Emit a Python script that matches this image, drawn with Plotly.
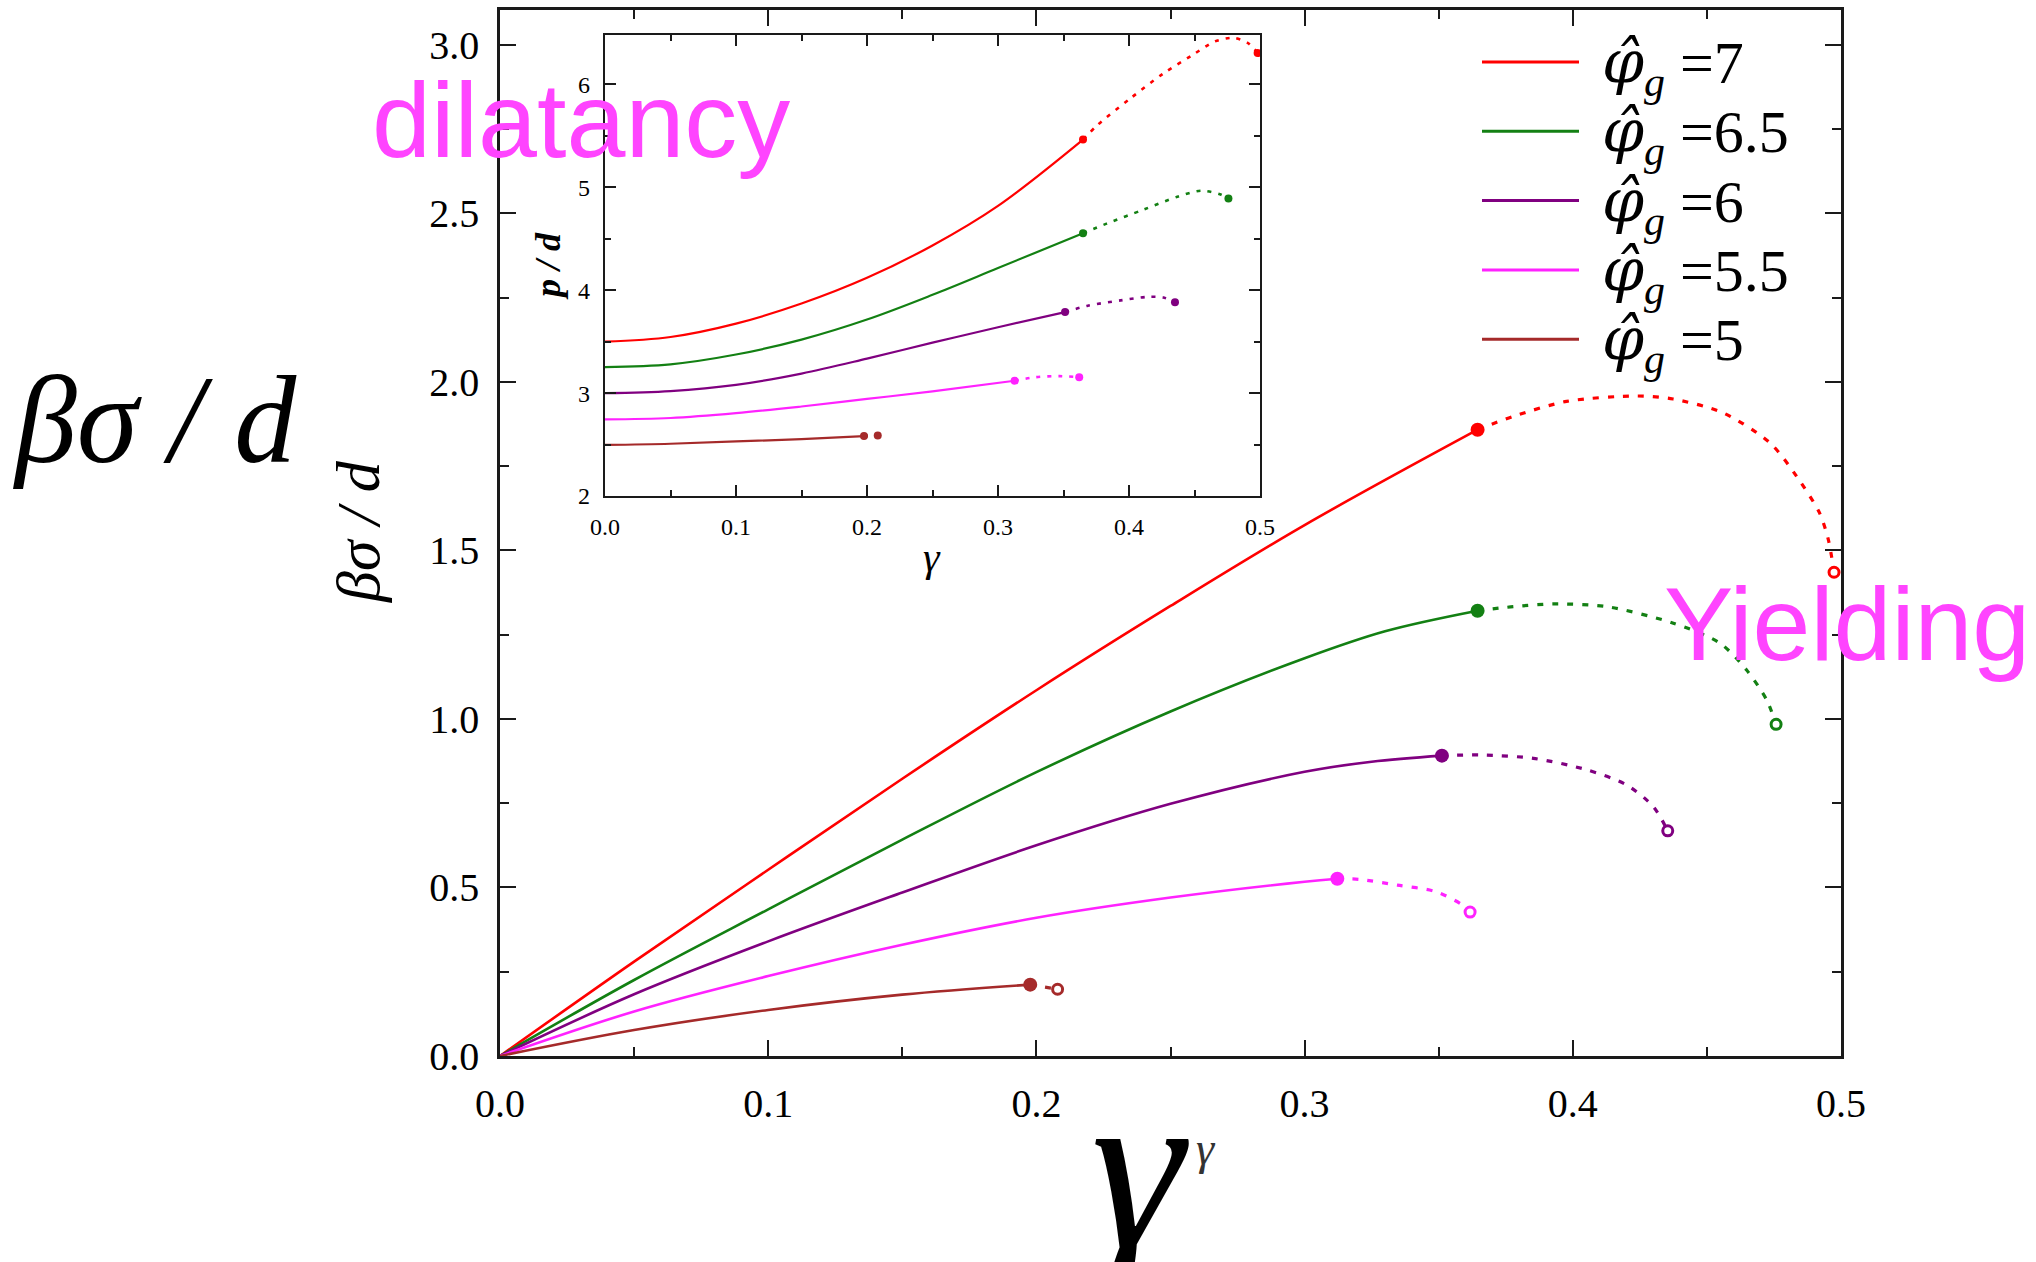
import plotly.graph_objects as go

W, H = 2036, 1262

# ---------------- data ----------------
series_names = ["7", "6.5", "6", "5.5", "5"]
colors = ["#ff0000", "#138013", "#800080", "#ff22ff", "#a52a2a"]

# main plot: beta*sigma/d vs gamma (solid part, then dotted continuation)
red_x = [0, 0.05, 0.1, 0.15, 0.2, 0.25, 0.3, 0.3645]
red_y = [0, 0.28, 0.5525, 0.8225, 1.085, 1.335, 1.575, 1.858]
red_dx = [0.3645, 0.3777, 0.3977, 0.4238, 0.4374, 0.456, 0.4735, 0.4835, 0.492, 0.4953, 0.4974]
red_dy = [1.858, 1.897, 1.942, 1.958, 1.949, 1.908, 1.819, 1.719, 1.611, 1.531, 1.435]

green_x = [0, 0.05, 0.1, 0.15, 0.2, 0.25, 0.3, 0.33, 0.3645]
green_y = [0, 0.2255, 0.435, 0.642, 0.842, 1.022, 1.180, 1.260, 1.321]
green_dx = [0.3645, 0.3778, 0.3927, 0.4126, 0.4375, 0.4549, 0.4648, 0.4723, 0.4758]
green_dy = [1.321, 1.333, 1.341, 1.333, 1.284, 1.2246, 1.145, 1.056, 0.984]

purple_x = [0, 0.05, 0.1, 0.15, 0.2, 0.25, 0.3, 0.325, 0.3512]
purple_y = [0, 0.183, 0.340, 0.485, 0.625, 0.748, 0.843, 0.873, 0.891]
purple_dx = [0.3512, 0.3654, 0.3853, 0.4052, 0.4201, 0.43, 0.4354]
purple_dy = [0.891, 0.893, 0.883, 0.849, 0.804, 0.740, 0.668]

magenta_x = [0, 0.05, 0.1, 0.15, 0.2, 0.25, 0.3, 0.3122]
magenta_y = [0, 0.132, 0.237, 0.330, 0.410, 0.470, 0.517, 0.526]
magenta_dx = [0.3122, 0.3204, 0.3346, 0.3489, 0.3589, 0.3617]
magenta_dy = [0.526, 0.524, 0.507, 0.4876, 0.448, 0.427]

brown_x = [0, 0.05, 0.1, 0.15, 0.1977]
brown_y = [0, 0.077, 0.1365, 0.182, 0.2116]
brown_dx = [0.1977, 0.2079]
brown_dy = [0.2116, 0.198]

# inset: p/d vs gamma
ired_x = [0, 0.05, 0.1, 0.15, 0.2, 0.25, 0.3, 0.3649]
ired_y = [3.5, 3.545, 3.675, 3.87, 4.12, 4.435, 4.82, 5.464]
ired_dx = [0.3649, 0.3757, 0.4009, 0.4261, 0.4477, 0.4657, 0.4801, 0.491, 0.4982]
ired_dy = [5.464, 5.602, 5.862, 6.105, 6.279, 6.418, 6.452, 6.40, 6.306]

igreen_x = [0, 0.05, 0.1, 0.15, 0.2, 0.25, 0.3, 0.3649]
igreen_y = [3.253, 3.28, 3.375, 3.52, 3.715, 3.955, 4.215, 4.554]
igreen_dx = [0.3649, 0.3829, 0.4117, 0.437, 0.455, 0.4694, 0.4759]
igreen_dy = [4.554, 4.647, 4.786, 4.908, 4.967, 4.932, 4.89]

ipurple_x = [0, 0.05, 0.1, 0.15, 0.2, 0.25, 0.3, 0.3512]
ipurple_y = [3.0, 3.02, 3.08, 3.19, 3.335, 3.49, 3.64, 3.787]
ipurple_dx = [0.3512, 0.3685, 0.3937, 0.4154, 0.4261, 0.4351]
ipurple_dy = [3.787, 3.849, 3.901, 3.936, 3.929, 3.884]

imagenta_x = [0, 0.05, 0.1, 0.15, 0.2, 0.25, 0.3127]
imagenta_y = [2.745, 2.758, 2.805, 2.87, 2.943, 3.017, 3.12]
imagenta_dx = [0.3127, 0.3289, 0.3469, 0.362]
imagenta_dy = [3.12, 3.155, 3.165, 3.155]

ibrown_x = [0, 0.05, 0.1, 0.15, 0.1977]
ibrown_y = [2.496, 2.508, 2.53, 2.553, 2.582]
ibrown_dx = [0.1977, 0.2082]
ibrown_dy = [2.582, 2.589]

main_solid = [(red_x, red_y), (green_x, green_y), (purple_x, purple_y),
              (magenta_x, magenta_y), (brown_x, brown_y)]
main_dot = [(red_dx, red_dy), (green_dx, green_dy), (purple_dx, purple_dy),
            (magenta_dx, magenta_dy), (brown_dx, brown_dy)]
inset_solid = [(ired_x, ired_y), (igreen_x, igreen_y), (ipurple_x, ipurple_y),
               (imagenta_x, imagenta_y), (ibrown_x, ibrown_y)]
inset_dot = [(ired_dx, ired_dy), (igreen_dx, igreen_dy), (ipurple_dx, ipurple_dy),
             (imagenta_dx, imagenta_dy), (ibrown_dx, ibrown_dy)]

# ---------------- figure ----------------
fig = go.Figure()

for i, c in enumerate(colors):
    sx, sy = main_solid[i]
    dx, dy = main_dot[i]
    fig.add_trace(go.Scatter(x=sx, y=sy, mode="lines",
                             line=dict(color=c, width=2.6, shape="spline", smoothing=1.0),
                             xaxis="x", yaxis="y", showlegend=False))
    fig.add_trace(go.Scatter(x=dx, y=dy, mode="lines",
                             line=dict(color=c, width=3.2, dash="6px,9px", shape="spline", smoothing=0.8),
                             xaxis="x", yaxis="y", showlegend=False))
    fig.add_trace(go.Scatter(x=[sx[-1]], y=[sy[-1]], mode="markers",
                             marker=dict(color=c, size=14, line=dict(width=0)),
                             xaxis="x", yaxis="y", showlegend=False))
    fig.add_trace(go.Scatter(x=[dx[-1]], y=[dy[-1]], mode="markers",
                             marker=dict(color="white", size=10, line=dict(color=c, width=3)),
                             xaxis="x", yaxis="y", showlegend=False))

for i, c in enumerate(colors):
    sx, sy = inset_solid[i]
    dx, dy = inset_dot[i]
    fig.add_trace(go.Scatter(x=sx, y=sy, mode="lines",
                             line=dict(color=c, width=2.2, shape="spline", smoothing=1.0),
                             xaxis="x2", yaxis="y2", showlegend=False))
    fig.add_trace(go.Scatter(x=dx, y=dy, mode="lines",
                             line=dict(color=c, width=2.6, dash="4px,7px", shape="spline", smoothing=0.8),
                             xaxis="x2", yaxis="y2", showlegend=False))
    fig.add_trace(go.Scatter(x=[sx[-1], dx[-1]], y=[sy[-1], dy[-1]], mode="markers",
                             marker=dict(color=c, size=8),
                             xaxis="x2", yaxis="y2", showlegend=False))

serif = "Liberation Serif"
axcol = "#1a1a1a"


def px_x(p):
    return p / W


def px_y(p):
    return 1 - p / H


main_ax = dict(showline=True, linecolor=axcol, linewidth=2.5, mirror="ticks",
               ticks="inside", ticklen=16, tickwidth=2.2, tickcolor=axcol,
               showgrid=False, zeroline=False, automargin=False,
               tickfont=dict(family=serif, size=40, color="black"))
inset_ax = dict(showline=True, linecolor=axcol, linewidth=2.2, mirror="ticks",
                ticks="inside", ticklen=11, tickwidth=2, tickcolor=axcol,
                showgrid=False, zeroline=False, automargin=False,
                tickfont=dict(family=serif, size=24, color="black"))

fig.update_layout(
    width=W, height=H, autosize=False,
    margin=dict(l=0, r=0, t=0, b=0, pad=0, autoexpand=False),
    paper_bgcolor="white", plot_bgcolor="white",
    showlegend=False,
    xaxis=dict(main_ax, domain=[px_x(500), px_x(1841)], range=[0, 0.5],
               dtick=0.1, tick0=0, tickformat=".1f", ticklabelstandoff=10,
               minor=dict(dtick=0.05, ticklen=9, tickwidth=2, ticks="inside", tickcolor=axcol),
               anchor="y"),
    yaxis=dict(main_ax, domain=[px_y(1056), px_y(10)], range=[0, 3.103],
               dtick=0.5, tick0=0, tickformat=".1f", ticklabelstandoff=10,
               minor=dict(dtick=0.25, ticklen=9, tickwidth=2, ticks="inside", tickcolor=axcol),
               anchor="x"),
    xaxis2=dict(inset_ax, domain=[px_x(605), px_x(1260)], range=[0, 0.5],
                dtick=0.1, tick0=0, tickformat=".1f", ticklabelstandoff=8,
                minor=dict(dtick=0.05, ticklen=6, tickwidth=1.6, ticks="inside", tickcolor=axcol),
                anchor="y2"),
    yaxis2=dict(inset_ax, domain=[px_y(496), px_y(35)], range=[2, 6.48],
                dtick=1, tick0=2, tickformat="d", ticklabelstandoff=8,
                minor=dict(dtick=0.5, ticklen=6, tickwidth=1.6, ticks="inside", tickcolor=axcol),
                anchor="x2"),
)

annotations = []
# big overlaid labels (drawn first, so the small axis titles sit on top)
annotations.append(dict(text="<i>βσ / d</i>", x=px_x(155), y=px_y(420), xref="paper", yref="paper",
                        showarrow=False, font=dict(family=serif, size=124, color="black"),
                        xanchor="center", yanchor="middle"))
annotations.append(dict(text="<i>γ</i>", x=px_x(1140), y=px_y(1168), xref="paper", yref="paper",
                        showarrow=False, font=dict(family=serif, size=235, color="black"),
                        xanchor="center", yanchor="middle"))
# axis titles
annotations.append(dict(text="<i>βσ / d</i>", x=px_x(358), y=px_y(532), xref="paper", yref="paper",
                        showarrow=False, textangle=-90, font=dict(family=serif, size=62, color="black"),
                        xanchor="center", yanchor="middle"))
annotations.append(dict(text="<i>γ</i>", x=px_x(1206), y=px_y(1148), xref="paper", yref="paper",
                        showarrow=False, font=dict(family=serif, size=46, color="#333333"),
                        xanchor="center", yanchor="middle"))
annotations.append(dict(text="<b><i>p / d</i></b>", x=px_x(548), y=px_y(266), xref="paper", yref="paper",
                        showarrow=False, textangle=-90, font=dict(family=serif, size=36, color="black"),
                        xanchor="center", yanchor="middle"))
annotations.append(dict(text="<i>γ</i>", x=px_x(932), y=px_y(557), xref="paper", yref="paper",
                        showarrow=False, font=dict(family=serif, size=42, color="black"),
                        xanchor="center", yanchor="middle"))
annotations.append(dict(text="dilatancy", x=px_x(370), y=px_y(120), xref="paper", yref="paper",
                        showarrow=False, font=dict(family="Liberation Sans", size=106, color="#ff44ff"),
                        xanchor="left", yanchor="middle"))
annotations.append(dict(text="Yielding", x=px_x(1662), y=px_y(624), xref="paper", yref="paper",
                        showarrow=False, font=dict(family="Liberation Sans", size=104, color="#ff44ff"),
                        xanchor="left", yanchor="middle"))

# legend (manual, to match sample length and spacing)
shapes = []
for i, (name, c) in enumerate(zip(series_names, colors)):
    ly = 62 + i * 69.3
    shapes.append(dict(type="line", xref="paper", yref="paper",
                       x0=px_x(1482), x1=px_x(1579), y0=px_y(ly), y1=px_y(ly),
                       line=dict(color=c, width=3)))
    annotations.append(dict(
        text='<span style="font-family:\'DejaVu Serif\'"><i>φ̂</i></span><sub><i>g</i></sub> =' + name,
        x=px_x(1600), y=px_y(ly + 4), xref="paper", yref="paper",
        showarrow=False, font=dict(family=serif, size=60, color="black"),
        xanchor="left", yanchor="middle"))

fig.update_layout(annotations=annotations, shapes=shapes)

fig.write_html("out.html")
